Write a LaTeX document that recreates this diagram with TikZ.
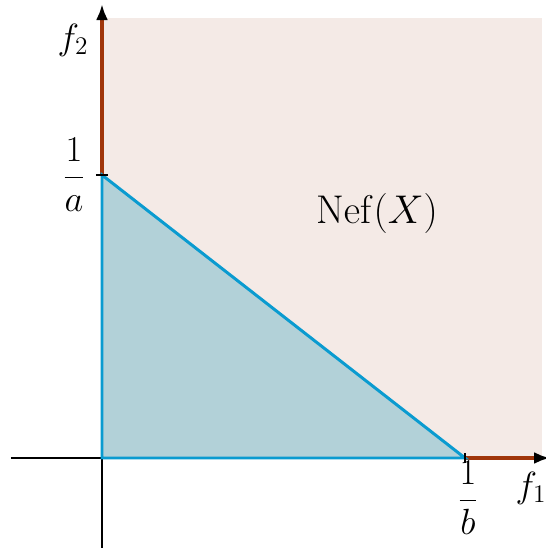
\documentclass[tikz,border=0pt]{standalone}
\usepackage{amsmath}
\usetikzlibrary{arrows.meta,calc}
\definecolor{NefPink}{HTML}{F4EAE6}
\definecolor{ConeTeal}{HTML}{B2D1D8}
\definecolor{EdgeBlue}{HTML}{0A9BD0}
\definecolor{RayBrown}{HTML}{A0360A}

\begin{document}
\begin{tikzpicture}[x=1cm,y=1cm,every node/.style={font=\huge}]
      \useasboundingbox (-2.04,-1.8) rectangle (8.88,9.16);
      % nef cone
      \fill[NefPink] (0,0) rectangle (8.8,8.8);
      % triangle
      \coordinate (O) at (0,0);
      \coordinate (pa) at (0,5.66);
      \coordinate (pb) at (7.26,0);
      \fill[ConeTeal] (O) -- (pb) -- (pa) -- cycle;
      % axes
      \coordinate (xl) at (-1.82,0);
      \coordinate (xr) at (8.96,0);
      \coordinate (yb) at (0,-1.8);
      \coordinate (yt) at (0,9.08);
      \draw[line width=0.8pt] (xl) -- (O);
      \draw[line width=0.8pt] (yb) -- (O);
      \draw[line width=1.9pt,RayBrown,-{Latex[length=3.2mm,width=2.4mm,black]}] (pb) -- (xr);
      \draw[line width=1.9pt,RayBrown,-{Latex[length=3.2mm,width=2.4mm,black]}] (pa) -- (yt);
      \draw[line width=1.7pt,EdgeBlue] (pa) -- (O) -- (pb) -- cycle;
      % ticks
      \draw[line width=0.6pt] ($(pa)+(-0.12,0)$) -- ++(0.24,0);
      \draw[line width=0.6pt] ($(pb)+(0,-0.1)$) -- ++(0,0.2);
      % labels
      \node (la) at (-0.56,5.66) {$\dfrac{1}{a}$};
      \node (lb) at (7.32,-0.8) {$\dfrac{1}{b}$};
      \node (f1) at (8.58,-0.6) {$f_1$};
      \node (f2) at (-0.58,8.36) {$f_2$};
      \node[scale=1.1] (nef) at (5.5,4.9) {$\mathrm{Nef}(X)$};
\end{tikzpicture}
\end{document}
